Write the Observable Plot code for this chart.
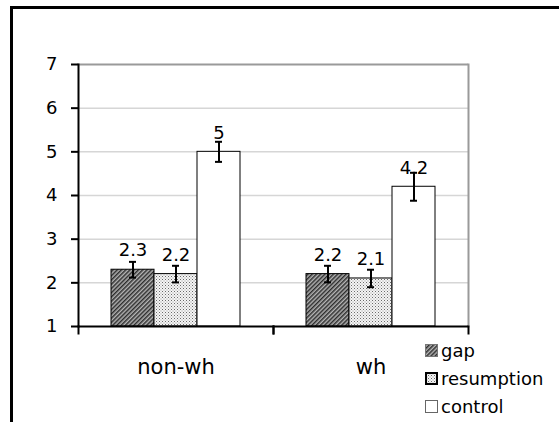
<!DOCTYPE html>
<html><head><meta charset="utf-8">
<script src="https://cdn.jsdelivr.net/npm/d3@7"></script>
<script src="https://cdn.jsdelivr.net/npm/@observablehq/plot@0.6"></script>
<style>
body{margin:0;background:#fff;}
#wrap{position:relative;width:559px;height:422px;overflow:hidden;font-family:"DejaVu Sans",sans-serif;background:#fff;}
#chart{position:absolute;left:0;top:0;}
#border{position:absolute;left:10px;top:6px;width:600px;height:500px;border-top:3px solid #000;border-left:3px solid #000;pointer-events:none;}
#legend{position:absolute;left:425px;top:336px;font-size:18px;color:#000;}
#legend .item{height:28px;display:flex;align-items:center;}
#legend svg{margin-right:3px;}
</style>
</head><body>
<div id="wrap"><div id="chart"></div><div id="border"></div><div id="legend"></div></div>
<script>
const groups = ["non-wh", "wh"];
const series = ["gap", "resumption", "control"];
const nonWhValues = [2.3, 2.2, 5];
const whValues = [2.2, 2.1, 4.2];
const nonWhErrors = [0.18, 0.19, 0.23];
const whErrors = [0.19, 0.2, 0.32];
const yTicks = [1, 2, 3, 4, 5, 6, 7];

const table = [];
groups.forEach((g, gi) => {
  const vals = gi === 0 ? nonWhValues : whValues;
  const errs = gi === 0 ? nonWhErrors : whErrors;
  series.forEach((s, si) => table.push({group: g, series: s, value: vals[si], err: errs[si]}));
});

const fills = ["url(#pat-gap)", "url(#pat-res)", "#ffffff"];

const chart = Plot.plot({
  width: 559, height: 422,
  marginLeft: 78, marginRight: 91, marginTop: 64, marginBottom: 96,
  style: {fontFamily: "DejaVu Sans", background: "transparent", color: "#000"},
  fx: {domain: groups, padding: 0, axis: null, label: null},
  x: {domain: series, paddingInner: 0, paddingOuter: 0.74, axis: null, label: null},
  y: {domain: [1, 7], axis: null, label: null},
  color: {domain: series, range: fills},
  marks: [
    Plot.gridY(yTicks.slice(1, -1), {stroke: "#d6d6d6", strokeOpacity: 1, strokeWidth: 1.5}),
    Plot.ruleY([7], {stroke: "#9a9a9a", strokeWidth: 2}),
    Plot.frame({anchor: "right", stroke: "#9a9a9a", strokeWidth: 2, facetAnchor: "right"}),
    Plot.barY(table, {fx: "group", x: "series", y1: 1, y2: "value", fill: "series", stroke: "#000", strokeWidth: 1}),
    Plot.ruleX(table, {fx: "group", x: "series", y1: d => d.value - d.err, y2: d => d.value + d.err, stroke: "#000", strokeWidth: 2}),
    Plot.tickY(table, {fx: "group", x: "series", y: d => d.value + d.err, stroke: "#000", strokeWidth: 2, insetLeft: 18, insetRight: 18}),
    Plot.tickY(table, {fx: "group", x: "series", y: d => d.value - d.err, stroke: "#000", strokeWidth: 2, insetLeft: 18, insetRight: 18}),
    Plot.text(table, {fx: "group", x: "series", y: "value", text: d => String(d.value), dy: -19, fontSize: 18, fill: "#000"}),
    Plot.ruleY([1], {stroke: "#000", strokeWidth: 2}),
    Plot.frame({anchor: "left", stroke: "#000", strokeWidth: 2, insetTop: 262, insetBottom: -7}),
    Plot.frame({anchor: "right", stroke: "#000", strokeWidth: 2, insetTop: 262, insetBottom: -7}),
    Plot.frame({anchor: "left", stroke: "#000", strokeWidth: 2, facetAnchor: "left"}),
    Plot.axisY(yTicks, {anchor: "left", label: null, tickSize: 7, tickPadding: 14, fontSize: 18, stroke: "#000", strokeWidth: 2, fill: "#000"}),
    Plot.axisFx({anchor: "bottom", label: null, tickSize: 0, tickPadding: 33, fontSize: 21, fill: "#000"})
  ]
});

const defs = `
<pattern id="pat-gap" patternUnits="userSpaceOnUse" width="3" height="3" patternTransform="rotate(45)">
  <rect width="3" height="3" fill="#b4b4b4"/><rect width="1.5" height="3" fill="#2e2e2e"/>
</pattern>
<pattern id="pat-res" patternUnits="userSpaceOnUse" width="3" height="3">
  <rect width="3" height="3" fill="#f4f4f4"/><rect width="1" height="1" fill="#6a6a6a"/><rect x="1.5" y="1.5" width="1" height="1" fill="#9a9a9a"/>
</pattern>`;
const d = document.createElementNS("http://www.w3.org/2000/svg", "defs");
d.innerHTML = defs;
chart.insertBefore(d, chart.firstChild);
document.getElementById("chart").appendChild(chart);

// legend
const swatchStyles = [
  {fill: "url(#pat-gap)", stroke: "#777", sw: 1},
  {fill: "url(#pat-res)", stroke: "#000", sw: 2},
  {fill: "#fff", stroke: "#666", sw: 1}
];
const legend = document.getElementById("legend");
series.forEach((s, i) => {
  const st = swatchStyles[i];
  const item = document.createElement("div");
  item.className = "item";
  item.innerHTML = `<svg width="13" height="13"><rect x="${st.sw/2}" y="${st.sw/2}" width="${13-st.sw}" height="${13-st.sw}" fill="${st.fill}" stroke="${st.stroke}" stroke-width="${st.sw}"/></svg><span>${s}</span>`;
  legend.appendChild(item);
});
</script>
</body></html>
